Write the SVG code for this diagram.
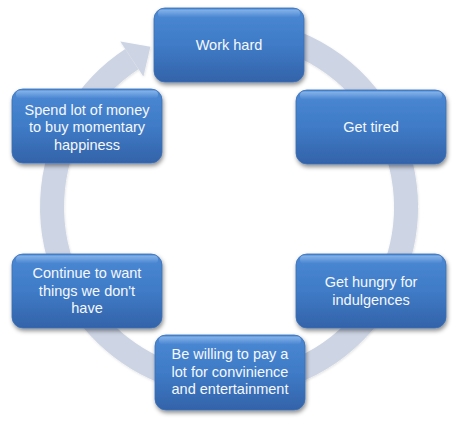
<svg xmlns="http://www.w3.org/2000/svg" width="457" height="421" viewBox="0 0 457 421">
  <defs>
    <linearGradient id="boxFill" x1="0" y1="0" x2="0" y2="1">
      <stop offset="0" stop-color="#4b89d5"/>
      <stop offset="0.5" stop-color="#3f7bc7"/>
      <stop offset="1" stop-color="#3363a9"/>
    </linearGradient>
    <linearGradient id="hiFill" x1="0" y1="0" x2="0" y2="1">
      <stop offset="0" stop-color="#8db8ec" stop-opacity="0.9"/>
      <stop offset="1" stop-color="#8db8ec" stop-opacity="0"/>
    </linearGradient>
    <filter id="shadow" x="-10%" y="-10%" width="125%" height="130%">
      <feDropShadow dx="1" dy="2.5" stdDeviation="2" flood-color="#000000" flood-opacity="0.45"/>
    </filter>
    <filter id="bandShadow" x="-10%" y="-10%" width="120%" height="120%">
      <feDropShadow dx="0.5" dy="1" stdDeviation="1" flood-color="#000000" flood-opacity="0.12"/>
    </filter>
  </defs>
  <style>
    .box { fill: url(#boxFill); stroke: #3a6fb5; stroke-width: 0.8; filter: url(#shadow); }
    .hi { fill: url(#hiFill); }
    .lbl { font-family: "Liberation Sans", Arial, sans-serif; font-size: 14.5px; fill: #f5f8fc; text-anchor: middle; }
    .band { fill: none; stroke: #cdd4e4; stroke-width: 24; }
    .head { fill: #cdd4e4; }
  </style>
  <rect width="457" height="421" fill="#ffffff"/>
  <g id="connectors" filter="url(#bandShadow)">
    <path class="band" d="M 229 30 A 177 177 0 1 1 131.8 59.1"/>
    <polygon class="head" points="120.3,41.5 150.4,46.8 143.4,76.6"/>
  </g>
  <g id="node-work-hard">
    <rect class="box" x="154" y="8" width="150" height="74" rx="11"/>
    <rect class="hi" x="158" y="9.5" width="142" height="8" rx="4"/>
    <text class="lbl" x="229" y="50">Work hard</text>
  </g>
  <g id="node-get-tired">
    <rect class="box" x="296" y="90" width="150" height="74" rx="11"/>
    <rect class="hi" x="300" y="91.5" width="142" height="8" rx="4"/>
    <text class="lbl" x="371" y="132">Get tired</text>
  </g>
  <g id="node-get-hungry">
    <rect class="box" x="296" y="254" width="150" height="74" rx="11"/>
    <rect class="hi" x="300" y="255.5" width="142" height="8" rx="4"/>
    <text class="lbl" x="371" y="287">Get hungry for</text>
    <text class="lbl" x="371" y="304.5">indulgences</text>
  </g>
  <g id="node-be-willing">
    <rect class="box" x="155" y="335" width="150" height="75" rx="11"/>
    <rect class="hi" x="159" y="336.5" width="142" height="8" rx="4"/>
    <text class="lbl" x="230" y="359">Be willing to pay a</text>
    <text class="lbl" x="230" y="376.5">lot for convinience</text>
    <text class="lbl" x="230" y="394">and entertainment</text>
  </g>
  <g id="node-continue">
    <rect class="box" x="12" y="254" width="150" height="74" rx="11"/>
    <rect class="hi" x="16" y="255.5" width="142" height="8" rx="4"/>
    <text class="lbl" x="87" y="278">Continue to want</text>
    <text class="lbl" x="87" y="295.5">things we don't</text>
    <text class="lbl" x="87" y="313">have</text>
  </g>
  <g id="node-spend">
    <rect class="box" x="12" y="89" width="150" height="74" rx="11"/>
    <rect class="hi" x="16" y="90.5" width="142" height="8" rx="4"/>
    <text class="lbl" x="87" y="114.5">Spend lot of money</text>
    <text class="lbl" x="87" y="132">to buy momentary</text>
    <text class="lbl" x="87" y="149.5">happiness</text>
  </g>
</svg>
